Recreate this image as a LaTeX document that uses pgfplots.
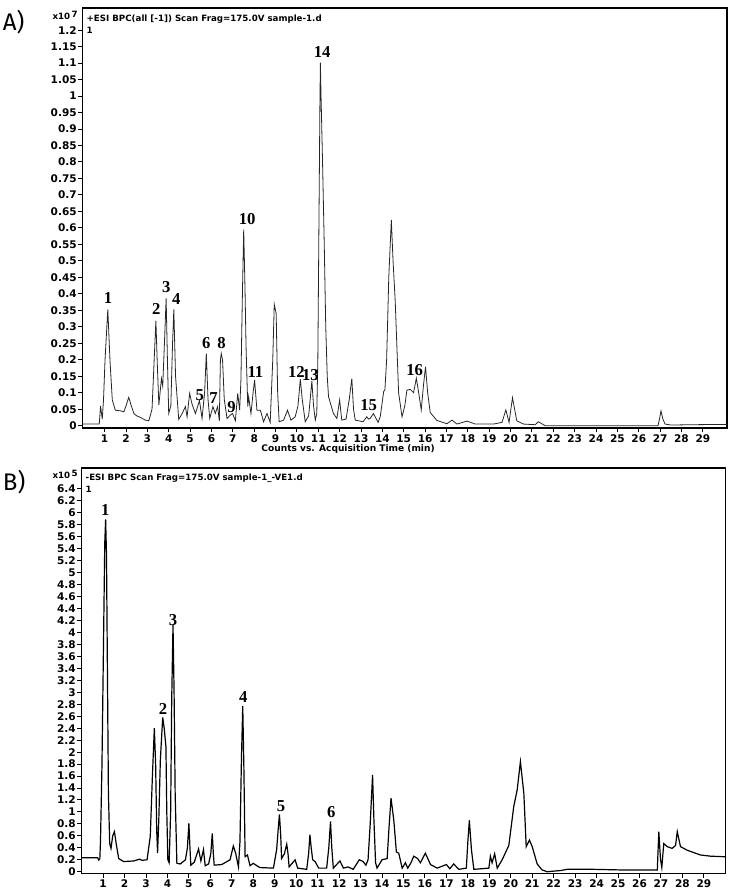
\documentclass[border=0pt]{standalone}
\usepackage{pgfplots}
\pgfplotsset{compat=1.18}
\usepackage{fontspec}
\setmainfont{DejaVu Sans}
\newfontfamily\peakfont{Liberation Serif}
\newfontfamily\panelfont{Fira Sans}

\newcommand{\tickf}{\bfseries\fontsize{7.9}{8.5}\selectfont}
\newcommand{\peakf}{\peakfont\bfseries\fontsize{12.5}{13}\selectfont}

\pgfplotsset{
  chrom/.style={
    scale only axis,
    anchor=south west,
    axis line style={black, line width=0.8pt},
    tick align=outside,
    tick pos=left,
    major tick length=3.2pt,
    tick style={black, line width=0.7pt},
    xtick={1,2,...,29},
    scaled y ticks=false,
    /pgf/number format/assume math mode=true,
    ticklabel style={font=\tickf},
    yticklabel style={inner sep=1pt, /pgf/number format/fixed},
    xticklabel style={inner sep=1.5pt},
    clip=false,
  },
}

\begin{document}
\begin{tikzpicture}
\path[use as bounding box] (0,0) rectangle (549.75pt,-667.5pt);

% ---------------- A) positive mode BPC ----------------
\begin{axis}[chrom,
    at={(61.95pt,-321pt)},
    width=483.3pt, height=315pt,
    xmin=-0.03, xmax=30.13,
    ymin=-0.007, ymax=1.267,
    ytick={0,0.05,0.1,0.15,0.2,0.25,0.3,0.35,0.4,0.45,0.5,0.55,0.6,0.65,0.7,0.75,0.8,0.85,0.9,0.95,1,1.05,1.1,1.15,1.2},
    yticklabel style={/pgf/number format/precision=2},
    xlabel={Counts vs. Acquisition Time (min)},
    xlabel style={font=\bfseries\fontsize{6.8}{7}\selectfont, at={(axis description cs:0.412,0)}, anchor=north, yshift=-9.2pt},
]
\addplot[black!85, line width=0.6pt] coordinates {
(0,0.005) (0.75,0.005) (0.81,0.06) (0.89,0.02) (0.95,0.08) (1.02,0.2) (1.15,0.353) (1.25,0.2) (1.36,0.078) (1.5,0.047)
(1.75,0.045) (1.9,0.042) (2.0,0.06) (2.13,0.086) (2.25,0.06) (2.37,0.037) (2.5,0.03) (2.68,0.025) (2.9,0.017) (3.07,0.015)
(3.22,0.05) (3.32,0.2) (3.40,0.318) (3.47,0.18) (3.54,0.063) (3.66,0.143) (3.72,0.12) (3.80,0.25) (3.88,0.386) (3.94,0.2)
(4.0,0.037) (4.1,0.06) (4.18,0.25) (4.24,0.353) (4.32,0.15) (4.47,0.019) (4.63,0.037) (4.78,0.058) (4.86,0.027) (4.98,0.098)
(5.09,0.066) (5.25,0.037) (5.44,0.076) (5.56,0.022) (5.68,0.1) (5.76,0.219) (5.84,0.08) (5.92,0.022) (6.07,0.058) (6.18,0.037)
(6.29,0.058) (6.37,0.015) (6.42,0.2) (6.46,0.219) (6.52,0.2) (6.6,0.08) (6.73,0.022) (6.88,0.032) (6.99,0.037) (7.12,0.015)
(7.23,0.098) (7.32,0.047) (7.38,0.138) (7.45,0.4) (7.51,0.595) (7.57,0.42) (7.62,0.24) (7.70,0.058) (7.74,0.088) (7.85,0.037)
(7.95,0.1) (8.02,0.138) (8.13,0.047) (8.29,0.047) (8.44,0.012) (8.6,0.037) (8.75,0.01) (8.87,0.2) (8.94,0.368) (9.03,0.34)
(9.1,0.1) (9.17,0.012) (9.38,0.017) (9.56,0.047) (9.72,0.017) (9.92,0.027) (10.05,0.06) (10.16,0.141) (10.25,0.08) (10.39,0.012)
(10.55,0.03) (10.7,0.135) (10.78,0.06) (10.86,0.017) (10.93,0.037) (10.98,0.2) (11.03,0.6) (11.08,1.0) (11.1,1.101) (11.13,1.0)
(11.2,0.8) (11.28,0.55) (11.35,0.3) (11.42,0.15) (11.48,0.088) (11.71,0.037) (11.87,0.022) (12.0,0.078) (12.1,0.017) (12.3,0.02)
(12.45,0.08) (12.57,0.143) (12.65,0.05) (12.73,0.017) (13.1,0.012) (13.27,0.027) (13.35,0.02) (13.43,0.022) (13.58,0.037) (13.8,0.01)
(13.9,0.027) (14.06,0.103) (14.12,0.11) (14.2,0.2) (14.3,0.45) (14.42,0.624) (14.5,0.5) (14.6,0.38) (14.76,0.1) (14.92,0.027)
(15.05,0.06) (15.15,0.108) (15.31,0.11) (15.46,0.1) (15.59,0.144) (15.7,0.1) (15.82,0.048) (15.92,0.12) (16.02,0.179) (16.12,0.1)
(16.24,0.04) (16.55,0.016) (17.02,0.006) (17.26,0.017) (17.49,0.005) (17.96,0.014) (18.35,0.005) (19.2,0.005) (19.6,0.01) (19.78,0.048)
(19.93,0.01) (20.09,0.085) (20.29,0.015) (20.6,0.005) (21.15,0.003) (21.3,0.012) (21.62,0.0) (26.9,0.0) (26.97,0.02) (27.04,0.045)
(27.13,0.02) (27.23,0.005) (27.5,0.002) (28.5,0.003) (30.13,0.004)
};
\node[anchor=north west, align=left, inner sep=0pt, font=\bfseries\fontsize{6.5}{9}\selectfont]
  at (rel axis cs:0.006,0.985) {+ESI BPC(all [-1]) Scan Frag=175.0V sample-1.d\\1};
\begin{scope}[every node/.style={font=\peakf, inner sep=0pt}]
\node at (axis cs:1.155,0.387) {1};
\node at (axis cs:3.418,0.353) {2};
\node at (axis cs:3.885,0.420) {3};
\node at (axis cs:4.35,0.384) {4};
\node at (axis cs:5.456,0.093) {5};
\node at (axis cs:5.755,0.250) {6};
\node at (axis cs:6.096,0.083) {7};
\node at (axis cs:6.470,0.250) {8};
\node at (axis cs:6.937,0.058) {9};
\node at (axis cs:7.672,0.627) {10};
\node at (axis cs:8.06,0.164) {11};
\node at (axis cs:9.976,0.162) {12};
\node at (axis cs:10.63,0.154) {13};
\node at (axis cs:11.18,1.135) {14};
\node at (axis cs:13.36,0.063) {15};
\node at (axis cs:15.51,0.169) {16};
\end{scope}
\end{axis}

% ---------------- B) negative mode BPC ----------------
\begin{axis}[chrom,
    at={(61.2pt,-655pt)},
    width=482.8pt, height=304pt,
    xmin=0, xmax=30.0,
    ymin=-0.027, ymax=6.75,
    ytick={0,0.2,0.4,0.6,0.8,1,1.2,1.4,1.6,1.8,2,2.2,2.4,2.6,2.8,3,3.2,3.4,3.6,3.8,4,4.2,4.4,4.6,4.8,5,5.2,5.4,5.6,5.8,6,6.2,6.4},
    yticklabel style={/pgf/number format/precision=1},
]
\addplot[black, line width=0.9pt] coordinates {
(0,0.234) (0.75,0.234) (0.8,0.195) (0.85,0.22) (0.88,0.5) (0.95,1.8) (1.02,3.8) (1.08,5.5) (1.12,5.89) (1.16,5.3)
(1.2,3.5) (1.25,1.3) (1.31,0.47) (1.37,0.39) (1.45,0.6) (1.53,0.67) (1.62,0.45) (1.73,0.22) (1.96,0.17) (2.43,0.18)
(2.7,0.21) (2.82,0.19) (3.05,0.2) (3.2,0.59) (3.3,1.6) (3.39,2.4) (3.45,1.8) (3.5,0.7) (3.54,0.31) (3.6,0.9)
(3.67,1.87) (3.78,2.58) (3.85,2.4) (3.93,2.09) (3.97,1.0) (4.02,0.2) (4.08,0.15) (4.15,1.0) (4.2,2.9) (4.26,4.13)
(4.31,3.0) (4.36,1.31) (4.44,0.14) (4.6,0.13) (4.84,0.2) (4.93,0.4) (5.0,0.81) (5.05,0.4) (5.09,0.11) (5.25,0.16)
(5.45,0.38) (5.56,0.18) (5.68,0.37) (5.76,0.1) (5.92,0.13) (6.02,0.3) (6.09,0.64) (6.14,0.3) (6.18,0.11) (6.53,0.12)
(6.92,0.2) (7.07,0.43) (7.18,0.31) (7.31,0.08) (7.38,0.5) (7.45,1.9) (7.51,2.77) (7.56,1.8) (7.62,0.25) (7.73,0.28)
(7.85,0.1) (8.0,0.14) (8.3,0.07) (8.94,0.06) (9.09,0.37) (9.16,0.7) (9.22,0.96) (9.28,0.6) (9.32,0.22) (9.45,0.3)
(9.56,0.46) (9.62,0.3) (9.67,0.08) (9.95,0.2) (10.07,0.06) (10.49,0.04) (10.58,0.3) (10.64,0.62) (10.7,0.4) (10.77,0.2)
(10.88,0.17) (11.05,0.06) (11.42,0.06) (11.52,0.4) (11.6,0.84) (11.66,0.4) (11.73,0.06) (12.04,0.18) (12.2,0.06) (12.42,0.08)
(12.66,0.04) (12.94,0.2) (13.12,0.17) (13.25,0.11) (13.35,0.2) (13.45,0.8) (13.56,1.62) (13.62,0.9) (13.7,0.15) (13.77,0.06)
(14.0,0.2) (14.24,0.22) (14.32,0.7) (14.42,1.23) (14.55,0.86) (14.67,0.33) (14.78,0.31) (14.94,0.06) (15.09,0.15) (15.2,0.06)
(15.35,0.15) (15.48,0.26) (15.66,0.22) (15.79,0.15) (16.02,0.31) (16.26,0.12) (16.57,0.06) (17.0,0.12) (17.16,0.05) (17.34,0.13)
(17.58,0.04) (17.93,0.06) (18.0,0.5) (18.07,0.86) (18.17,0.36) (18.28,0.04) (18.98,0.06) (19.05,0.26) (19.13,0.15) (19.25,0.3)
(19.37,0.06) (19.6,0.2) (19.91,0.44) (20.14,1.09) (20.3,1.37) (20.45,1.84) (20.61,1.31) (20.72,0.42) (20.87,0.53) (21.0,0.42)
(21.23,0.13) (21.46,0.03) (21.7,0.0) (22.32,0.02) (22.63,0.04) (23.87,0.04) (25.11,0.03) (26.83,0.03) (26.9,0.67) (26.98,0.2)
(27.04,0.07) (27.13,0.47) (27.29,0.42) (27.52,0.39) (27.68,0.44) (27.76,0.67) (27.91,0.42) (28.22,0.36) (28.53,0.32) (28.84,0.28)
(29.31,0.26) (30.0,0.25)
};
\node[anchor=north west, align=left, inner sep=0pt, font=\bfseries\fontsize{6.5}{9}\selectfont]
  at (rel axis cs:0.006,0.985) {-ESI BPC Scan Frag=175.0V sample-1\_-VE1.d\\1};
\begin{scope}[every node/.style={font=\peakf, inner sep=0pt}]
\node at (axis cs:1.105,6.048) {1};
\node at (axis cs:3.795,2.717) {2};
\node at (axis cs:4.261,4.209) {3};
\node at (axis cs:7.538,2.915) {4};
\node at (axis cs:9.296,1.099) {5};
\node at (axis cs:11.64,1.005) {6};
\end{scope}
\end{axis}

% panel letters and exponent labels
\node[anchor=west, inner sep=0pt, font=\panelfont\fontsize{18}{19}\selectfont] at (2pt,-16.5pt) {A)};
\node[anchor=west, inner sep=0pt, font=\panelfont\fontsize{18}{19}\selectfont] at (2pt,-361.5pt) {B)};
\node[anchor=east, inner sep=0pt, font=\bfseries\fontsize{6.5}{7}\selectfont] at (58.5pt,-11.5pt) {x10\,\raisebox{1.5pt}{7}};
\node[anchor=east, inner sep=0pt, font=\bfseries\fontsize{6.5}{7}\selectfont] at (58.5pt,-356pt) {x10\,\raisebox{1.5pt}{5}};
\end{tikzpicture}
\end{document}
